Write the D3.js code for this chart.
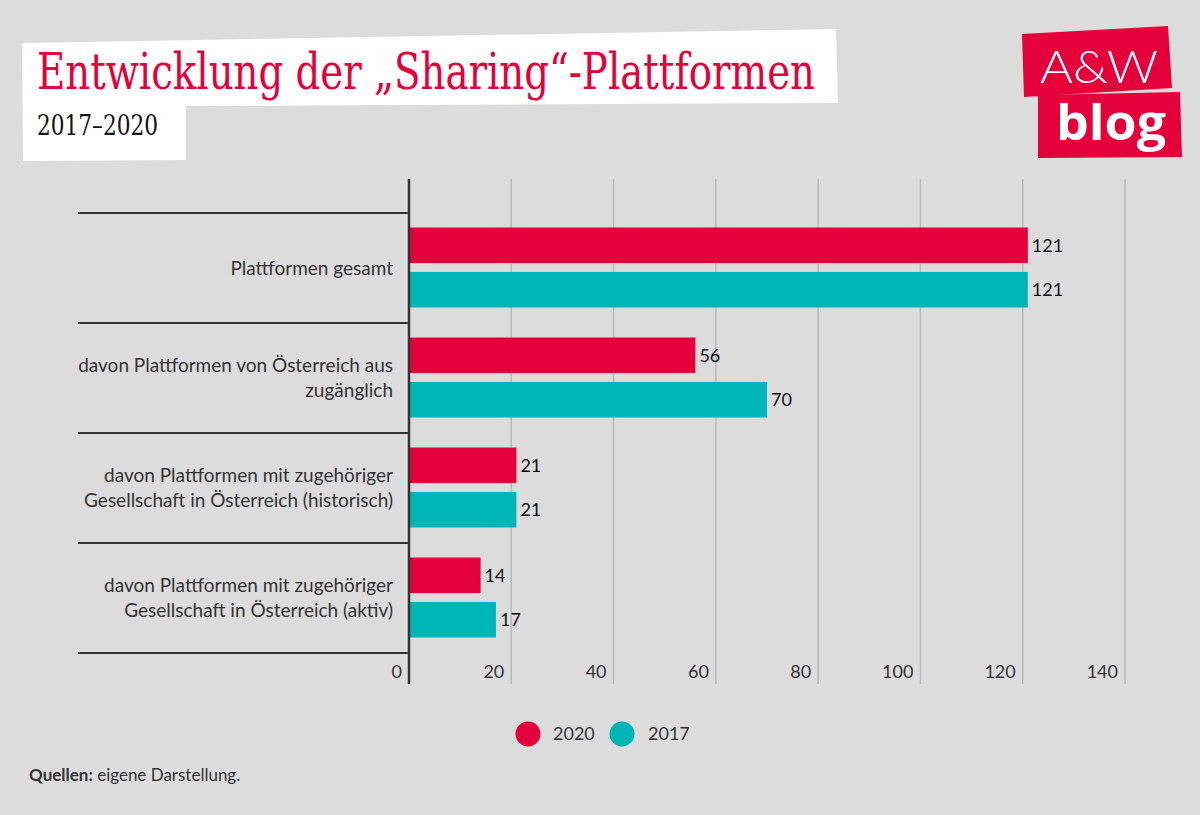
<!DOCTYPE html>
<html><head><meta charset="utf-8">
<script src="https://cdn.jsdelivr.net/npm/d3@7"></script>
<style>
html,body{margin:0;padding:0;background:#dcdcdc;}
svg{display:block;}
</style></head>
<body>
<svg id="c" width="1200" height="815"></svg>
<script>
const categories = [
  "Plattformen gesamt",
  "davon Plattformen von Österreich aus zugänglich",
  "davon Plattformen mit zugehöriger Gesellschaft in Österreich (historisch)",
  "davon Plattformen mit zugehöriger Gesellschaft in Österreich (aktiv)"
];
const seriesNames = ["2020", "2017"];
const values2020 = [121, 56, 21, 14];
const values2017 = [121, 70, 21, 17];
const tickValues = [0, 20, 40, 60, 80, 100, 120, 140];
const title = "Entwicklung der „Sharing“-Plattformen";
const subtitle = "2017–2020";
const sourceBold = "Quellen:";
const sourceText = " eigene Darstellung.";

const colors = {"2020": "#e4003b", "2017": "#00b5b5"};
const RED = "#e4003b";
const FONT = "Lato, 'Open Sans', sans-serif";

const svg = d3.select("#c");
svg.append("rect").attr("width",1200).attr("height",815).attr("fill","#dcdcdc");

// Title box
svg.append("path")
  .attr("d","M22,43 L836,29 L838,103 L186,106 L186,160 L23,161 Z")
  .attr("fill","#ffffff");
svg.append("text").attr("x",37).attr("y",89)
  .attr("font-family","'DejaVu Serif Condensed','Liberation Serif',serif")
  .attr("font-size",50).attr("fill",RED)
  .attr("textLength",778).attr("lengthAdjust","spacingAndGlyphs")
  .text(title);
svg.append("text").attr("x",37).attr("y",135)
  .attr("font-family","'DejaVu Serif Condensed','Liberation Serif',serif")
  .attr("font-size",27).attr("fill","#111")
  .attr("textLength",121).attr("lengthAdjust","spacingAndGlyphs")
  .text(subtitle);

// Logo
svg.append("path").attr("d","M1022,34 L1168,26 L1172,88 L1024,97 Z").attr("fill",RED);
svg.append("path").attr("d","M1038,95 L1180,92 L1182,157 L1038,158 Z").attr("fill",RED);
svg.append("text").attr("x",1040).attr("y",83)
  .attr("font-family","Lato,'Liberation Sans',sans-serif").attr("font-weight",300)
  .attr("font-size",46).attr("fill","#fff")
  .attr("textLength",118).attr("lengthAdjust","spacingAndGlyphs")
  .text("A&W");
svg.append("text").attr("x",1056).attr("y",140)
  .attr("font-family","'Open Sans',sans-serif").attr("font-weight",700)
  .attr("font-size",48).attr("fill","#fff")
  .attr("textLength",110).attr("lengthAdjust","spacingAndGlyphs")
  .text("blog");

// Scales
const x = d3.scaleLinear().domain([0,140]).range([409,1125]);
const y = d3.scaleBand().domain(categories).range([213,653]).padding(0);
const ySub = d3.scaleBand().domain(seriesNames).range([14.5,94.5]).paddingInner(0.2).paddingOuter(0);

const chartTop = 179, chartBottom = 684;

// gridlines
svg.append("g").selectAll("line").data(tickValues.filter(t=>t>0)).join("line")
  .attr("x1",d=>x(d)).attr("x2",d=>x(d))
  .attr("y1",chartTop).attr("y2",chartBottom)
  .attr("stroke","#b9b9b9").attr("stroke-width",1.5);

// tick labels
svg.append("g").selectAll("text").data(tickValues).join("text")
  .attr("x",d=>x(d)-7).attr("y",678)
  .attr("text-anchor","end")
  .attr("font-family",FONT).attr("font-size",18).attr("fill","#333")
  .text(d=>d);

// separators
const bounds = categories.map(c=>y(c)).concat([y(categories[categories.length-1])+y.bandwidth()]);
svg.append("g").selectAll("line").data(bounds).join("line")
  .attr("x1",78).attr("x2",x(0))
  .attr("y1",d=>d).attr("y2",d=>d)
  .attr("stroke","#333").attr("stroke-width",2);

// bars
const rows = [];
categories.forEach((c,i)=>{
  rows.push({cat:c, s:"2020", v:values2020[i]});
  rows.push({cat:c, s:"2017", v:values2017[i]});
});
svg.append("g").selectAll("rect").data(rows).join("rect")
  .attr("x",x(0)).attr("y",d=>y(d.cat)+ySub(d.s))
  .attr("width",d=>x(d.v)-x(0)).attr("height",ySub.bandwidth())
  .attr("fill",d=>colors[d.s]);

// value labels
svg.append("g").selectAll("text").data(rows).join("text")
  .attr("x",d=>x(d.v)+4).attr("y",d=>y(d.cat)+ySub(d.s)+ySub.bandwidth()/2)
  .attr("dy","0.36em")
  .attr("font-family",FONT).attr("font-size",18).attr("fill","#111")
  .text(d=>d.v);

// axis line
svg.append("line").attr("x1",x(0)).attr("x2",x(0))
  .attr("y1",chartTop).attr("y2",chartBottom)
  .attr("stroke","#333").attr("stroke-width",2.5);

// category labels with wrapping
const labelG = svg.append("g");
categories.forEach(c=>{
  const words = c.split(" ");
  const t = labelG.append("text")
    .attr("font-family",FONT).attr("font-size",19).attr("fill","#333")
    .attr("text-anchor","end");
  const lines = [];
  let line = [];
  const probe = t.append("tspan");
  words.forEach(w=>{
    const test = line.concat([w]).join(" ");
    probe.text(test);
    if (probe.node().getComputedTextLength() > 325 && line.length) {
      lines.push(line.join(" "));
      line = [w];
    } else line.push(w);
  });
  lines.push(line.join(" "));
  probe.remove();
  const cy = y(c) + y.bandwidth()/2;
  const lh = 25;
  lines.forEach((l,i)=>{
    t.append("tspan").attr("x",393)
      .attr("y", cy + (i - (lines.length-1)/2)*lh)
      .attr("dy","0.36em").text(l);
  });
});

// legend
const legend = svg.append("g");
const legendPos = [{s:"2020",cx:528,tx:553},{s:"2017",cx:622,tx:648}];
legend.selectAll("circle").data(legendPos).join("circle")
  .attr("cx",d=>d.cx).attr("cy",734).attr("r",12.5)
  .attr("fill",d=>colors[d.s]);
legend.selectAll("text").data(legendPos).join("text")
  .attr("x",d=>d.tx).attr("y",734).attr("dy","0.36em")
  .attr("font-family",FONT).attr("font-size",18).attr("fill","#333")
  .text(d=>d.s);

// source
const src = svg.append("text").attr("x",29).attr("y",781)
  .attr("font-family",FONT).attr("font-size",17).attr("fill","#333");
src.append("tspan").attr("font-weight",700).text(sourceBold);
src.append("tspan").text(sourceText);
</script>
</body></html>
